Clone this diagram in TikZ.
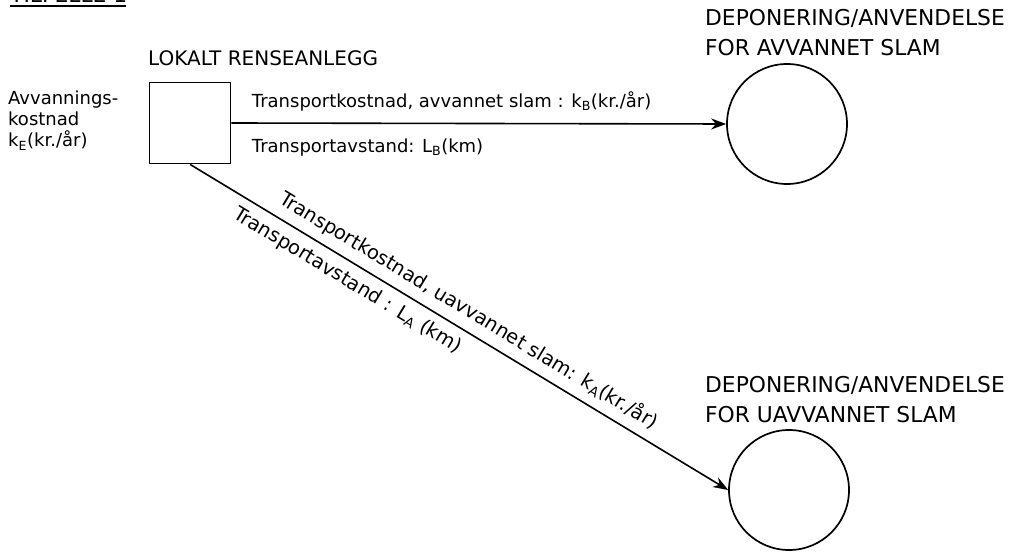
\documentclass[tikz,border=0pt]{standalone}
\usepackage{fontspec}
\setmainfont{DejaVu Sans}
\usetikzlibrary{arrows.meta, positioning}

\begin{document}
\begin{tikzpicture}[x=1pt,y=-1pt,
    anlegg/.style={draw, line width=1.7pt, minimum size=81pt, inner sep=0pt},
    deponi/.style={draw, circle, line width=1.7pt, minimum size=120pt, inner sep=0pt},
    pil/.style={line width=1.6pt, -{Stealth[length=15pt,width=11pt]}},
    tekst/.style={font=\fontsize{18}{20}\selectfont, inner sep=0pt},
    skratekst/.style={font=\fontsize{19.5}{22}\selectfont, inner sep=8pt},
    venstretekst/.style={font=\fontsize{18}{21}\selectfont, align=left, inner sep=0pt},
    overskrift/.style={font=\fontsize{21.8}{30}\selectfont, align=left, inner sep=0pt}]
    \useasboundingbox (0,0) rectangle (1021,553);

    % title, cut off by the top edge
    \node[overskrift, anchor=base west] (tittel) at (10,2.5) {TILFELLE 1};
    \draw[line width=1.8pt] (10,6) -- (126,6);

    % local plant and the two sites
    \node[anlegg] (anlegg) at (190,123) {};
    \node[deponi] (depB) at (787,124) {};
    \node[deponi] (depA) at (789,490) {};

    \node[overskrift, font=\fontsize{20}{30}\selectfont, anchor=base west] (anleggtxt) at (148,66) {LOKALT RENSEANLEGG};
    \node[overskrift, anchor=south west] (depBtxt) at (705,56) {DEPONERING/ANVENDELSE\\FOR AVVANNET SLAM};
    \node[overskrift, anchor=south west] (depAtxt) at (705,423) {DEPONERING/ANVENDELSE\\FOR UAVVANNET SLAM};
    \node[venstretekst, anchor=north west] (avvanning) at (8,91)
        {Avvannings-\\kostnad\\k\textsubscript{E}(kr./år)};

    % transport of dewatered sludge
    \draw[pil] (anlegg.east) -- (depB.west)
        node[tekst, pos=0.04, anchor=base west, yshift=16pt] (kB) {Transportkostnad, avvannet slam : k\textsubscript{B}(kr./år)}
        node[tekst, pos=0.04, anchor=base west, yshift=-29pt] (LB) {Transportavstand: L\textsubscript{B}(km)};

    % transport of non-dewatered sludge
    \draw[pil] (anlegg.south) -- (depA.west)
        node[skratekst, midway, above, sloped] (kA) {Transportkostnad, uavvannet slam: k\textsubscript{A}(kr./år)}
        node[skratekst, pos=0.31, below, sloped] (LA) {Transportavstand : L\textsubscript{A} (km)};
\end{tikzpicture}
\end{document}
